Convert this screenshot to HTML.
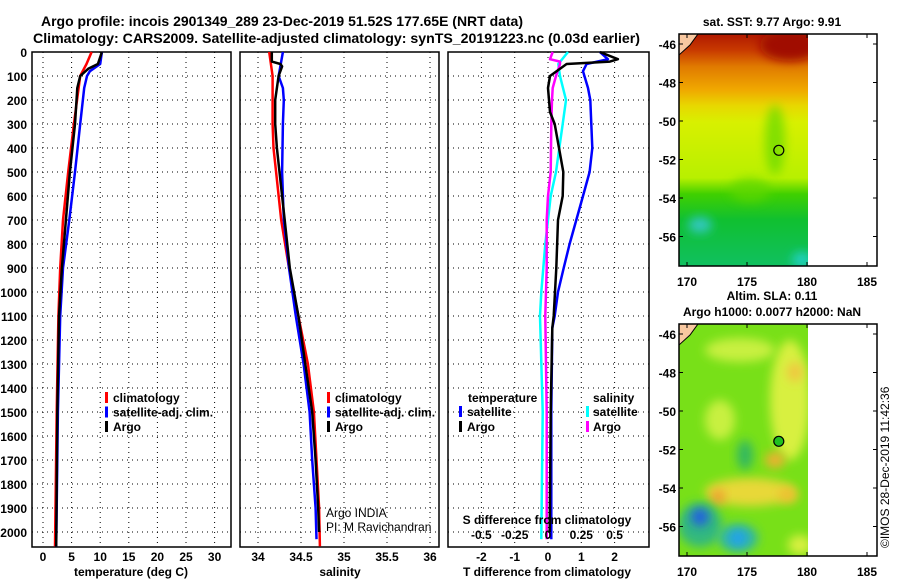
<!DOCTYPE html>
<html><head><meta charset="utf-8"><style>
html,body{margin:0;padding:0;background:#fff}
svg{display:block;font-family:"Liberation Sans",sans-serif}
.t{font-weight:bold;font-size:12px}
</style></head><body>
<svg id="fig" width="900" height="580" viewBox="0 0 900 580" xmlns="http://www.w3.org/2000/svg">
<defs>
<linearGradient id="sstg" x1="0" y1="0" x2="0" y2="1">
<stop offset="0" stop-color="#b01800"/><stop offset="0.07" stop-color="#c83a00"/>
<stop offset="0.14" stop-color="#e07a00"/><stop offset="0.24" stop-color="#f0a800"/>
<stop offset="0.31" stop-color="#e8d800"/><stop offset="0.38" stop-color="#d8f000"/>
<stop offset="0.62" stop-color="#b8f000"/><stop offset="0.69" stop-color="#40d000"/>
<stop offset="0.8" stop-color="#10c030"/><stop offset="1" stop-color="#10c060"/>
</linearGradient>
<filter id="bl" x="-50%" y="-50%" width="200%" height="200%"><feGaussianBlur stdDeviation="5"/></filter>
<clipPath id="c1"><rect x="679" y="34" width="129" height="232"/></clipPath>
<clipPath id="c2"><rect x="679" y="324" width="129" height="232"/></clipPath>
</defs>
<text class="t" x="41" y="26" textLength="482" lengthAdjust="spacingAndGlyphs" style="font-size:14px">Argo profile: incois 2901349_289 23-Dec-2019 51.52S 177.65E (NRT data)</text>
<text class="t" x="33" y="43" textLength="607" lengthAdjust="spacingAndGlyphs" style="font-size:14px">Climatology: CARS2009. Satellite-adjusted climatology: synTS_20191223.nc (0.03d earlier)</text>
<g id="plots"></g>
<!-- maps -->
<g>
<text class="t" x="772" y="26" text-anchor="middle">sat. SST: 9.77 Argo: 9.91</text>
<g clip-path="url(#c1)">
<rect x="679" y="34" width="129" height="232" fill="url(#sstg)"/>
<ellipse cx="790" cy="45" rx="30" ry="16" fill="#a00c00" filter="url(#bl)"/>
<ellipse cx="775" cy="140" rx="10" ry="35" fill="#60d800" filter="url(#bl)" opacity="0.7"/>
<ellipse cx="750" cy="190" rx="20" ry="12" fill="#60d800" filter="url(#bl)" opacity="0.7"/>
<ellipse cx="700" cy="225" rx="12" ry="8" fill="#30c8c0" filter="url(#bl)"/>
<ellipse cx="802" cy="260" rx="10" ry="8" fill="#20d0c0" filter="url(#bl)"/>
<polygon points="679,34 698,34 690,45 679,55" fill="#f8c8a0" stroke="#000" stroke-width="1"/>
</g>
<rect x="679" y="34" width="198" height="232" fill="none" stroke="#000" stroke-width="1.5"/>
<circle cx="778.8" cy="150.3" r="5" fill="none" stroke="#000" stroke-width="1.2"/>
<g id="map1axes"></g>
</g>
<g>
<text class="t" x="772" y="300" text-anchor="middle">Altim. SLA: 0.11</text>
<text class="t" x="772" y="316" text-anchor="middle">Argo h1000: 0.0077 h2000: NaN</text>
<g clip-path="url(#c2)">
<rect x="679" y="324" width="129" height="232" fill="#78e018"/>
<ellipse cx="790" cy="400" rx="20" ry="60" fill="#d8f040" filter="url(#bl)"/>
<ellipse cx="740" cy="350" rx="35" ry="12" fill="#c8f040" filter="url(#bl)"/>
<ellipse cx="720" cy="420" rx="15" ry="20" fill="#c8f040" filter="url(#bl)"/>
<ellipse cx="795" cy="372" rx="8" ry="10" fill="#f0c840" filter="url(#bl)"/>
<ellipse cx="775" cy="460" rx="10" ry="8" fill="#f0b030" filter="url(#bl)"/>
<ellipse cx="750" cy="492" rx="45" ry="14" fill="#e8d838" filter="url(#bl)"/>
<ellipse cx="718" cy="497" rx="7" ry="8" fill="#f0a030" filter="url(#bl)"/>
<ellipse cx="788" cy="495" rx="10" ry="8" fill="#f0c030" filter="url(#bl)"/>
<ellipse cx="745" cy="455" rx="8" ry="15" fill="#30b860" filter="url(#bl)"/>
<ellipse cx="700" cy="525" rx="22" ry="22" fill="#30b880" filter="url(#bl)"/>
<ellipse cx="700" cy="517" rx="9" ry="9" fill="#2060e0" filter="url(#bl)"/>
<ellipse cx="738" cy="538" rx="20" ry="14" fill="#30b8a0" filter="url(#bl)"/>
<ellipse cx="738" cy="538" rx="9" ry="8" fill="#20a0f0" filter="url(#bl)"/>
<ellipse cx="800" cy="545" rx="12" ry="10" fill="#d8f040" filter="url(#bl)"/>
<polygon points="679,324 698,324 690,335 679,345" fill="#f8c8a0" stroke="#000" stroke-width="1"/>
</g>
<rect x="679" y="324" width="198" height="232" fill="none" stroke="#000" stroke-width="1.5"/>
<circle cx="778.8" cy="441.3" r="5" fill="#20c020" stroke="#000" stroke-width="1.2"/>
<g id="map2axes"></g>
</g>
<text transform="translate(889,548) rotate(-90)" font-size="12">©IMOS 28-Dec-2019 11:42:36</text>
</svg>
<script>
// ---- data ----
const depthTicks=[0,100,200,300,400,500,600,700,800,900,1000,1100,1200,1300,1400,1500,1600,1700,1800,1900,2000];
const tempTicks=[0,5,10,15,20,25,30];
const salTicks=[34,34.5,35,35.5,36];
const salTickLabels=["34","34.5","35","35.5","36"];
const tdiffTicks=[-2,-1,0,1,2];
const sdiffTicks=[-0.5,-0.25,0,0.25,0.5];
const sdiffTickLabels=["-0.5","-0.25","0","0.25","0.5"];

const tClimDepth=[0,50,100,300,500,700,900,1100,1500,2060];
const tClim=[8.5,7.6,6.5,5.4,4.4,3.5,3.0,2.7,2.4,2.1];
const tSatDepth=[0,50,80,100,150,300,500,700,900,1100,1500,2060];
const tSat=[10.3,10.0,8.2,7.7,7.2,6.5,5.6,4.6,3.5,3.0,2.6,2.3];
const tArgoDepth=[0,50,70,100,150,300,500,700,900,1100,1500,2060];
const tArgo=[10.3,9.6,7.9,6.5,6.0,5.6,4.7,4.0,3.3,2.8,2.5,2.3];

const sClimDepth=[0,100,300,400,500,700,900,1100,1300,1500,1700,1900,2060];
const sClim=[34.13,34.17,34.17,34.18,34.21,34.27,34.36,34.47,34.58,34.65,34.68,34.71,34.72];
const sSatDepth=[0,80,100,150,200,300,500,700,900,1100,1300,1500,1700,1900,2030];
const sSat=[34.29,34.25,34.24,34.29,34.3,34.29,34.28,34.3,34.36,34.44,34.53,34.6,34.63,34.67,34.68];
const sArgoDepth=[0,40,50,60,100,200,300,400,500,700,900,1100,1300,1500,1700,1900,2000];
const sArgo=[34.16,34.16,34.26,34.28,34.24,34.2,34.2,34.22,34.25,34.31,34.37,34.47,34.55,34.63,34.67,34.7,34.71];

const dTSatDepth=[0,30,50,80,150,200,300,400,500,600,700,800,900,1000,1100,1150,1500,2030];
const dTSat=[1.56,1.8,1.16,1.05,1.2,1.27,1.3,1.33,1.25,1.05,0.85,0.65,0.47,0.3,0.2,0.13,0.1,0.1];
const dTArgoDepth=[0,30,40,50,100,150,250,300,400,500,600,700,900,1100,1150,1500,2000];
const dTArgo=[1.56,2.1,1.86,0.56,0.06,0.0,0.06,0.2,0.33,0.46,0.44,0.3,0.25,0.17,0.13,0.08,0.05];
const dSSatDepth=[0,50,100,200,300,400,500,600,700,800,900,1000,1100,1500,2030];
const dSSat=[0.15,0.077,0.09,0.135,0.11,0.085,0.06,0.02,0,-0.02,-0.035,-0.05,-0.06,-0.04,-0.05];
const dSArgoDepth=[0,30,40,50,100,150,200,300,500,600,700,900,1100,1500,2030];
const dSArgo=[0.035,0.015,0.09,0.09,0.06,0.035,0.03,0.025,0.02,0,-0.01,-0.01,-0.02,-0.01,-0.01];

const latTicks=[-46,-48,-50,-52,-54,-56];
const lonTicks=[170,175,180,185];

// ---- rendering ----
const NS="http://www.w3.org/2000/svg";
const root=document.getElementById('plots');
function mk(tag,attrs,parent){const e=document.createElementNS(NS,tag);for(const k in attrs)e.setAttribute(k,attrs[k]);(parent||root).appendChild(e);return e;}
const Y0=52,YB=547;
const yD=d=>Y0+d*0.24;
const xT=v=>43+v*5.72;
const xS=v=>258+(v-34)*86;
const xDT=v=>548+v*33.3;
const xDS=v=>548+v*133.2;

function panelFrame(x0,x1,xticks,xfn,labels,gname){
  const g=mk('g',{});
  
  
  depthTicks.forEach(d=>{const l=mk('line',{x1:x0,x2:x1,y1:yD(d),y2:yD(d),stroke:'#000','stroke-width':1,'stroke-dasharray':'1,4'},g);});
  xticks.forEach((v,i)=>{const x=xfn(v);const l=mk('line',{x1:x,x2:x,y1:Y0,y2:YB,stroke:'#000','stroke-width':1,'stroke-dasharray':'1,4'},g);
    if(labels){const t=mk('text',{x:x,y:561,'text-anchor':'middle',class:'t'},g);t.textContent=labels[i];}});
  const r=mk('rect',{x:x0,y:Y0,width:x1-x0,height:YB-Y0,fill:'none',stroke:'#000','stroke-width':1.5},g);
  
  return g;
}
function line(depths,vals,xfn,color,name,w){
  const pts=depths.map((d,i)=>xfn(vals[i]).toFixed(1)+','+yD(d).toFixed(1)).join(' ');
  const p=mk('polyline',{points:pts,fill:'none',stroke:color,'stroke-width':w||2.5,'stroke-linejoin':'round'});
  
}
function txt(x,y,s,name,anchor,extra){const t=mk('text',Object.assign({x:x,y:y,class:'t','text-anchor':anchor||'start'},extra||{}));t.textContent=s;return t;}
function legendBar(x,y,color,name){const r=mk('rect',{x:x,y:y-10,width:3,height:11,fill:color});}

// panel 1
panelFrame(32,231,tempTicks,xT,tempTicks.map(String),'temperature-panel');
depthTicks.forEach(d=>txt(27,yD(d)+5,String(d),'y-tick-label','end'));
line(tClimDepth,tClim,xT,'#ff0000','temp-climatology-line');
line(tSatDepth,tSat,xT,'#0000ff','temp-satellite-line');
line(tArgoDepth,tArgo,xT,'#000000','temp-argo-line');
txt(131,576,'temperature (deg C)','x-axis-title-temperature','middle');
[['#ff0000','climatology'],['#0000ff','satellite-adj. clim.'],['#000','Argo']].forEach((e,i)=>{legendBar(105,402+i*14.5,e[0],'legend-marker');txt(113,402+i*14.5,e[1],'legend-entry');});

// panel 2
panelFrame(240,439,salTicks,xS,salTickLabels,'salinity-panel');
line(sClimDepth,sClim,xS,'#ff0000','sal-climatology-line');
line(sSatDepth,sSat,xS,'#0000ff','sal-satellite-line');
line(sArgoDepth,sArgo,xS,'#000000','sal-argo-line');
txt(340,576,'salinity','x-axis-title-salinity','middle');
[['#ff0000','climatology'],['#0000ff','satellite-adj. clim.'],['#000','Argo']].forEach((e,i)=>{legendBar(327,402+i*14.5,e[0],'legend-marker');txt(335,402+i*14.5,e[1],'legend-entry');});
txt(326,517,'Argo INDIA','argo-credit','start',{style:'font-weight:normal'});
txt(326,531,'PI: M Ravichandran','pi-credit','start',{style:'font-weight:normal'});

// panel 3
panelFrame(448,649,tdiffTicks,xDT,tdiffTicks.map(String),'difference-panel');
line(dSSatDepth,dSSat,xDS,'#00ffff','sdiff-satellite-line');
line(dSArgoDepth,dSArgo,xDS,'#ff00ff','sdiff-argo-line');
line(dTSatDepth,dTSat,xDT,'#0000ff','tdiff-satellite-line');
line(dTArgoDepth,dTArgo,xDT,'#000000','tdiff-argo-line');
txt(547,576,'T difference from climatology','x-axis-title-tdiff','middle');
txt(547,524,'S difference from climatology','s-axis-title','middle');
sdiffTicks.forEach((v,i)=>txt(xDS(v),539,sdiffTickLabels[i],'s-tick-label','middle'));
txt(468,402,'temperature','legend-heading-temperature');
legendBar(459,416,'#0000ff','legend-marker');txt(467,416,'satellite','legend-entry');
legendBar(459,431,'#000','legend-marker');txt(467,431,'Argo','legend-entry');
txt(593,402,'salinity','legend-heading-salinity');
legendBar(586,416,'#00ffff','legend-marker');txt(593,416,'satellite','legend-entry');
legendBar(586,431,'#ff00ff','legend-marker');txt(593,431,'Argo','legend-entry');

// map axes
function mapAxes(id,top){
  const g=document.getElementById(id);
  const yL=l=>top+10+(-46-l)*19.25;
  const xL=l=>687+(l-170)*12;
  latTicks.forEach(l=>{const y=yL(l);
    mk('line',{x1:679,x2:683,y1:y,y2:y,stroke:'#000'},g);mk('line',{x1:873,x2:877,y1:y,y2:y,stroke:'#000'},g);
    const t=mk('text',{x:676,y:y+5,'text-anchor':'end',class:'t'},g);t.textContent=String(l);});
  lonTicks.forEach(l=>{const x=xL(l);
    mk('line',{x1:x,x2:x,y1:top,y2:top+4,stroke:'#000'},g);mk('line',{x1:x,x2:x,y1:top+228,y2:top+232,stroke:'#000'},g);
    const t=mk('text',{x:x,y:top+252,'text-anchor':'middle',class:'t'},g);t.textContent=String(l);});
}
mapAxes('map1axes',34);
mapAxes('map2axes',324);
</script>
</body></html>
